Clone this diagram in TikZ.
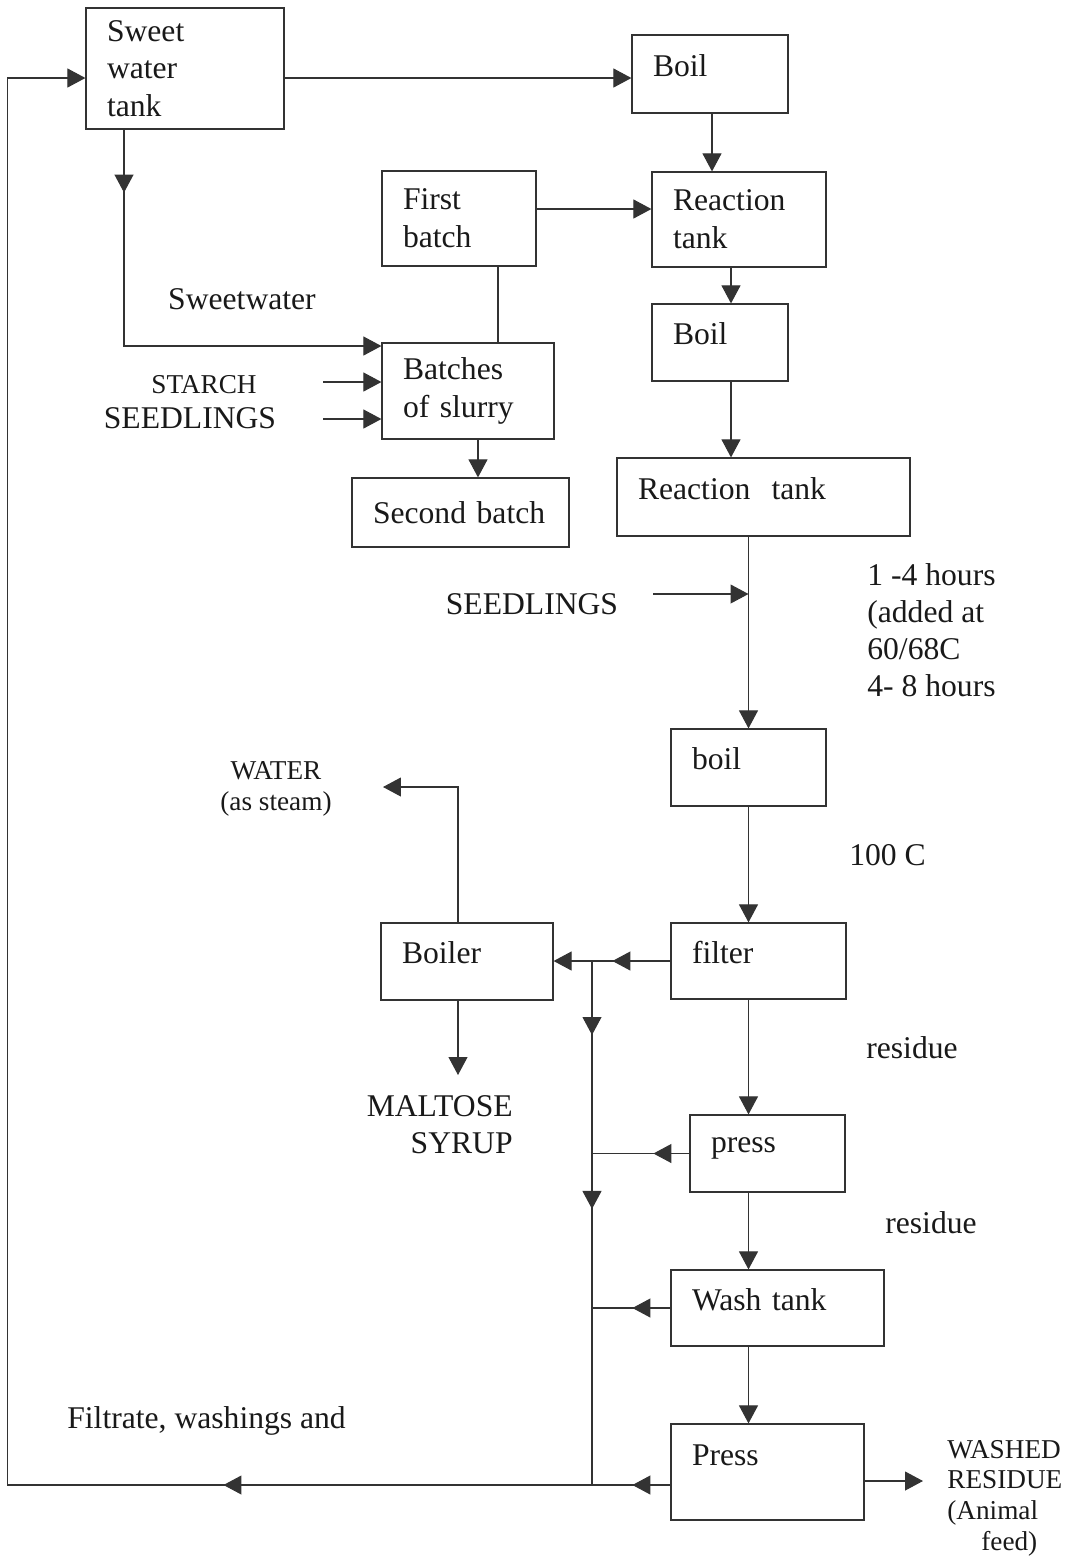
\documentclass[tikz,border=0pt]{standalone}
\usepackage{fontspec}
\setmainfont{Liberation Serif}
\usepackage{tikz}
\usetikzlibrary{arrows.meta, decorations.markings}
\tikzstyle{box} = [draw=black!80, line width=0.7pt, text=black!90, inner xsep=0.42cm, inner ysep=2pt, align=left, font=\fontsize{18}{21.5}\selectfont]
\tikzstyle{lift} = [text depth=0.34cm]
\tikzstyle{lbl} = [text=black!90, inner sep=0pt, font=\fontsize{18}{21}\selectfont]
\tikzstyle{caps} = [text=black!90, inner sep=0pt, font=\fontsize{15.5}{17.5}\selectfont]
\tikzstyle{pipe} = [line width=0.6pt, color=black!80]
\tikzstyle{arrow} = [pipe, ->]
\tikzset{midarrow/.style={postaction={decorate, decoration={markings, mark=at position #1 with {\arrow{>}}}}}}

\begin{document}
\begin{tikzpicture}[x=0.02cm, y=-0.02cm, >={Triangle[length=0.36cm,width=0.38cm]}]
            \useasboundingbox (0,0) rectangle (1071,1563);

            \node[box, text width=3.12cm, minimum height=2.42cm] (swt) at (185,68.5) {Sweet\\water\\tank};
            \node[box, lift, text width=2.28cm, minimum height=1.56cm] (boilA) at (710,74) {Boil};
            \node[box, text width=2.64cm, minimum height=1.90cm] (rtA) at (739,219.5) {Reaction\\tank};
            \node[box, text width=2.24cm, minimum height=1.90cm] (first) at (459,218.5) {First\\batch};
            \node[box, lift, text width=1.88cm, minimum height=1.54cm] (boilB) at (720,342.5) {Boil};
            \node[box, text width=2.60cm, minimum height=1.92cm] (slurry) at (468,391) {Batches\\of slurry};
            \node[box, text width=3.50cm, minimum height=1.38cm] (second) at (460.5,512.5) {Second batch};
            \node[box, lift, text width=5.02cm, minimum height=1.56cm] (rtB) at (763.5,497) {Reaction\ \ tank};
            \node[box, lift, text width=2.26cm, minimum height=1.54cm] (boilC) at (748.5,767.5) {boil};
            \node[box, lift, text width=2.66cm, minimum height=1.52cm] (filter) at (758.5,961) {filter};
            \node[box, lift, text width=2.60cm, minimum height=1.54cm] (boiler) at (467,961.5) {Boiler};
            \node[box, lift, text width=2.26cm, minimum height=1.54cm] (press) at (767.5,1153.5) {press};
            \node[box, lift, text width=3.42cm, minimum height=1.52cm] (wash) at (777.5,1308) {Wash tank};
            \node[box, text depth=0.68cm, text width=3.02cm, minimum height=1.92cm] (pressB) at (767.5,1472) {Press};

            \node[lbl] (sweetwater) at (242,299) {Sweetwater};
            \node[caps] (starch) at (204,385) {STARCH};
            \node[lbl] (seedA) at (190,418) {SEEDLINGS};
            \node[lbl] (seedB) at (532,604) {SEEDLINGS};
            \node[lbl, align=left, anchor=west] (hours) at (867,630) {1 -4 hours\\(added at\\60/68C\\4- 8 hours};
            \node[lbl, anchor=west] (temp) at (849,855) {100 C};
            \node[caps, align=center] (water) at (276,789) {WATER\\(as steam)};
            \node[lbl, align=right, anchor=east] (maltose) at (513,1125) {MALTOSE\\SYRUP};
            \node[lbl, anchor=west] (resA) at (866,1048) {residue};
            \node[lbl, anchor=west] (resB) at (885,1223) {residue};
            \node[lbl, anchor=west] (filtrate) at (67,1421) {Filtrate, washings and};
            \node[caps, align=left, anchor=west] (washed) at (947,1498) {WASHED\\RESIDUE\\(Animal\\\hspace*{0.68cm}feed)};

            \coordinate (jt) at (592,962);
            \coordinate (jb) at (592,1485);
            \coordinate (lb) at (7.5,1485);
            \coordinate (lt) at (7.5,78);
            \coordinate (sw) at (124,346);
            \coordinate (st) at (323,382);
            \coordinate (sd) at (323,419);
            \coordinate (s2) at (653,594);
            \coordinate (wc) at (458,787);
            \coordinate (wt) at (383,787);
            \coordinate (mt) at (458,1075);
            \coordinate (wr) at (923,1481);

            \draw[arrow] (swt.east |- 0,78) -- (boilA.west |- 0,78);
            \draw[arrow] (boilA.south -| 712,0) -- (rtA.north -| 712,0);
            \draw[arrow] (first.east |- 0,209) -- (rtA.west |- 0,209);
            \draw[arrow] (rtA.south -| 731,0) -- (boilB.north -| 731,0);
            \draw[arrow] (boilB.south -| 731,0) -- (rtB.north -| 731,0);
            \draw[arrow] (rtB.south -| boilC.north) -- (boilC.north);
            \draw[arrow] (s2) -- (boilC.north |- s2);
            \draw[arrow] (boilC.south) -- (boilC.south |- filter.north);
            \draw[arrow, midarrow=1.16cm] (filter.west) -- (boiler.east |- filter.west);
            \draw[pipe, midarrow=1.46cm, midarrow=4.94cm] (jt) -- (jb);
            \draw[arrow] (filter.south -| boilC.south) -- (press.north -| boilC.south);
            \draw[pipe, midarrow=0.72cm] (press.west) -- (press.west -| jt);
            \draw[arrow] (press.south -| boilC.south) -- (wash.north -| boilC.south);
            \draw[pipe, midarrow=0.76cm] (wash.west) -- (wash.west -| jt);
            \draw[arrow] (wash.south -| boilC.south) -- (pressB.north -| boilC.south);
            \draw[arrow, midarrow=0.76cm, midarrow=8.94cm] (pressB.west |- jb) -- (lb) -- (lt) -- (swt.west |- lt);
            \draw[arrow] (pressB.east |- wr) -- (wr);

            \draw[arrow, midarrow=1.26cm] (swt.south -| sw) -- (sw) -- (slurry.west |- sw);
            \draw[arrow] (st) -- (slurry.west |- st);
            \draw[arrow] (sd) -- (slurry.west |- sd);
            \draw[pipe] (first.south -| 498,0) -- (slurry.north -| 498,0);
            \draw[arrow] (slurry.south -| 478,0) -- (second.north -| 478,0);
            \draw[arrow] (boiler.north -| wc) -- (wc) -- (wt);
            \draw[arrow] (boiler.south -| mt) -- (mt);
        \end{tikzpicture}
\end{document}
